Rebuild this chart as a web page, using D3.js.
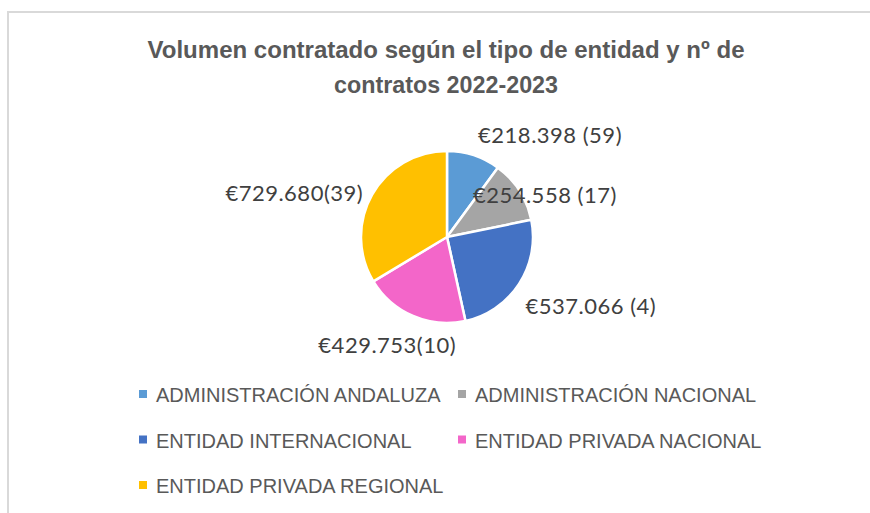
<!DOCTYPE html>
<html>
<head>
<meta charset="utf-8">
<script src="https://cdn.jsdelivr.net/npm/d3@7"></script>
<style>
  body { margin: 0; background: #fff; }
  svg { display: block; }
</style>
</head>
<body>
<div id="chart"></div>
<script>
var width = 870,
    height = 513

// datos
var categories = ["ADMINISTRACIÓN ANDALUZA", "ADMINISTRACIÓN NACIONAL", "ENTIDAD INTERNACIONAL", "ENTIDAD PRIVADA NACIONAL", "ENTIDAD PRIVADA REGIONAL"];
var volumes = [218398, 254558, 537066, 429753, 729680];
var contracts = [59, 17, 4, 10, 39];
var labelTexts = ["€218.398 (59)", "€254.558 (17)", "€537.066 (4)", "€429.753(10)", "€729.680(39)"];
var colors = ["#5b9bd5", "#a5a5a5", "#4472c4", "#f366c9", "#ffc000"];

var data = categories.map((c, i) => ({name: c, value: volumes[i], n: contracts[i], label: labelTexts[i], color: colors[i]}));

var svg = d3.select("#chart").append("svg")
    .attr("width", width)
    .attr("height", height);

// chart border (runs off right/bottom)
svg.append("rect")
    .attr("x", 8).attr("y", 12)
    .attr("width", width + 20).attr("height", height + 20)
    .attr("fill", "#fff")
    .attr("stroke", "#d9d9d9")
    .attr("stroke-width", 2);

// title
var title = svg.append("text")
    .attr("text-anchor", "middle")
    .attr("fill", "#595959")
    .style("font", "bold 24px 'Liberation Sans', Arial, sans-serif");
title.append("tspan").attr("x", 446).attr("y", 58)
    .attr("textLength", 597).attr("lengthAdjust", "spacingAndGlyphs")
    .text("Volumen contratado según el tipo de entidad y nº de");
title.append("tspan").attr("x", 446).attr("y", 93)
    .attr("textLength", 224).attr("lengthAdjust", "spacingAndGlyphs")
    .text("contratos 2022-2023");

// pie
var cx = 447, cy = 237, r = 86;

var pie = d3.pie().sort(null).value(d => d.value);
var arc = d3.arc().innerRadius(0).outerRadius(r);
var labelArc = d3.arc().innerRadius(r * 1.2).outerRadius(r * 1.2);

var arcs = pie(data);

var g = svg.append("g").attr("transform", `translate(${cx},${cy})`);

g.selectAll("path.slice")
  .data(arcs).enter()
  .append("path")
    .attr("class", "slice")
    .attr("d", arc)
    .attr("fill", d => d.data.color)
    .attr("stroke", "#fff")
    .attr("stroke-width", 2.5)
    .attr("stroke-linejoin", "round");

// excel "best fit" nudges for the labels
var labelNudge = [[-1, -4], [-61, 14], [-8, 13], [-19, 13], [6, 7]];

g.selectAll("text.lbl")
  .data(arcs).enter()
  .append("text")
    .attr("class", "lbl")
    .attr("fill", "#404040")
    .style("font", "22px Lato, 'Open Sans', sans-serif")
    .style("letter-spacing", "0.5px")
    .attr("text-anchor", d => {
      var s = Math.sin((d.startAngle + d.endAngle) / 2);
      return s > 0.2 ? "start" : (s < -0.5 ? "end" : "middle");
    })
    .attr("x", (d, i) => labelArc.centroid(d)[0] + labelNudge[i][0])
    .attr("y", (d, i) => labelArc.centroid(d)[1] + labelNudge[i][1])
    .attr("dy", "0.35em")
    .text(d => d.data.label);

// legend
var legendPos = [[139, 0], [458, 0], [139, 1], [458, 1], [139, 2]];
var legendTop = 394, rowStep = 45.5;

var leg = svg.selectAll("g.leg")
  .data(data).enter()
  .append("g")
    .attr("class", "leg")
    .attr("transform", (d, i) => `translate(${legendPos[i][0]},${legendTop + legendPos[i][1] * rowStep})`);

leg.append("rect")
    .attr("x", 0).attr("y", -4)
    .attr("width", 8).attr("height", 8)
    .attr("fill", d => d.color);

leg.append("text")
    .attr("x", 17).attr("y", 8)
    .attr("fill", "#595959")
    .style("font", "20px 'Liberation Sans', Arial, sans-serif")
    .text(d => d.name);
</script>
</body>
</html>
